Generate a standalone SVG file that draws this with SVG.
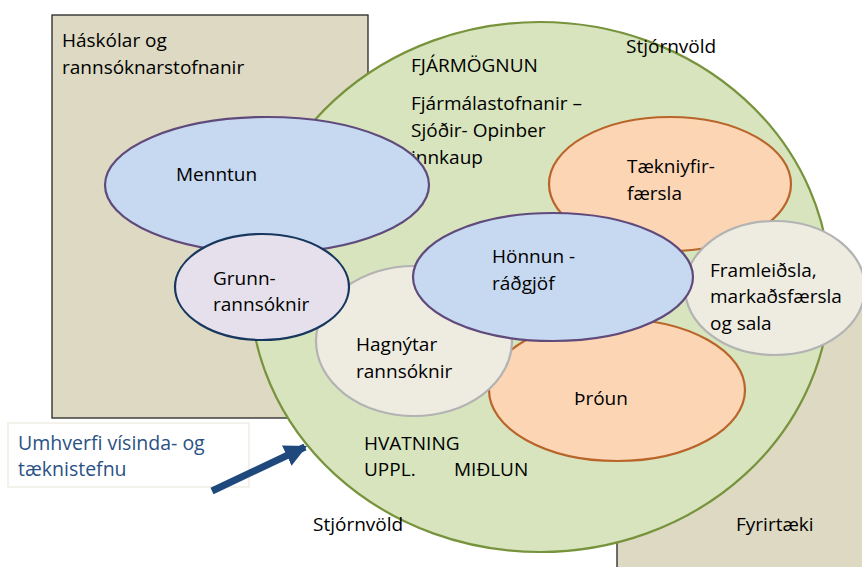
<svg xmlns="http://www.w3.org/2000/svg" width="862" height="567" viewBox="0 0 862 567">
  <style>
    text { font-family: "Open Sans", "Liberation Sans", Arial, sans-serif; font-size: 19px; fill: #000; }
    .area { fill: #ddd9c3; stroke: #262626; stroke-width: 1.3; }
    .env { fill: #d7e4bd; stroke: #77933c; stroke-width: 2.2; }
    .blue { fill: #c6d9f1; stroke: #604a7b; stroke-width: 2.2; }
    .lilac { fill: #e5e0ec; stroke: #17375e; stroke-width: 2.2; }
    .sand { fill: #eeece1; stroke: #b3b3b3; stroke-width: 2.2; }
    .peach { fill: #fcd5b5; stroke: #b9652a; stroke-width: 2.2; }
    .note { fill: #ffffff; stroke: #eeeee4; stroke-width: 1.5; }
    .note-text { fill: #2a5185; font-size: 19.5px; }
  </style>
  <defs>
    <marker id="head" viewBox="0 0 10 10" refX="9" refY="5" markerWidth="3.2" markerHeight="3.2" orient="auto" markerUnits="strokeWidth">
      <path d="M0,0 L10,5 L0,10 z" fill="#1f497d"/>
    </marker>
  </defs>

  <!-- sector backgrounds -->
  <g id="haskolar">
    <rect class="area" x="52" y="15" width="316" height="403"/>
    <text x="62" y="47">Háskólar og</text>
    <text x="62" y="74">rannsóknarstofnanir</text>
  </g>
  <g id="fyrirtaeki">
    <rect class="area" x="617" y="300" width="260" height="280"/>
  </g>

  <!-- funding / government environment -->
  <g id="umhverfi">
    <ellipse class="env" cx="540" cy="287" rx="290" ry="265"/>
    <text x="411" y="72">FJÁRMÖGNUN</text>
    <text x="411" y="110">Fjármálastofnanir –</text>
    <text x="411" y="137">Sjóðir- Opinber</text>
    <text x="411" y="164">innkaup</text>
    <text x="626" y="53">Stjórnvöld</text>
    <text x="364" y="450">HVATNING</text>
    <text x="364" y="476">UPPL.</text>
    <text x="454" y="476">MIÐLUN</text>
  </g>

  <g id="throun">
    <ellipse class="peach" cx="617" cy="390" rx="128" ry="71"/>
    <text x="574" y="405">Þróun</text>
  </g>
  <g id="taekniyfirfaersla">
    <ellipse class="peach" cx="670" cy="184" rx="121" ry="67"/>
    <text x="627" y="173">Tækniyfir-</text>
    <text x="627" y="200">færsla</text>
  </g>
  <g id="hagnytar">
    <ellipse class="sand" cx="414" cy="341" rx="98" ry="75"/>
    <text x="356" y="351">Hagnýtar</text>
    <text x="356" y="378">rannsóknir</text>
  </g>
  <g id="menntun">
    <ellipse class="blue" cx="267" cy="185" rx="162" ry="68"/>
    <text x="176" y="181">Menntun</text>
  </g>
  <g id="grunnrannsoknir">
    <ellipse class="lilac" cx="262" cy="287" rx="87" ry="53"/>
    <text x="213" y="285">Grunn-</text>
    <text x="213" y="311">rannsóknir</text>
  </g>
  <g id="framleidsla">
    <ellipse class="sand" cx="775" cy="288" rx="90" ry="67"/>
    <text x="710" y="277">Framleiðsla,</text>
    <text x="710" y="303">markaðsfærsla</text>
    <text x="710" y="330">og sala</text>
  </g>
  <g id="honnun">
    <ellipse class="blue" cx="553" cy="277" rx="140" ry="64"/>
    <text x="492" y="263">Hönnun -</text>
    <text x="492" y="290">ráðgjöf</text>
  </g>

  <g id="labels">
    <text x="313" y="531">Stjórnvöld</text>
    <text x="736" y="531">Fyrirtæki</text>
  </g>

  <g id="stefna">
    <rect class="note" x="8" y="423" width="241" height="64"/>
    <text class="note-text" x="18" y="450">Umhverfi vísinda- og</text>
    <text class="note-text" x="18" y="476">tæknistefnu</text>
  </g>

  <g id="connectors">
    <line x1="212" y1="491" x2="305" y2="447" stroke="#1f497d" stroke-width="7" marker-end="url(#head)"/>
  </g>
</svg>
